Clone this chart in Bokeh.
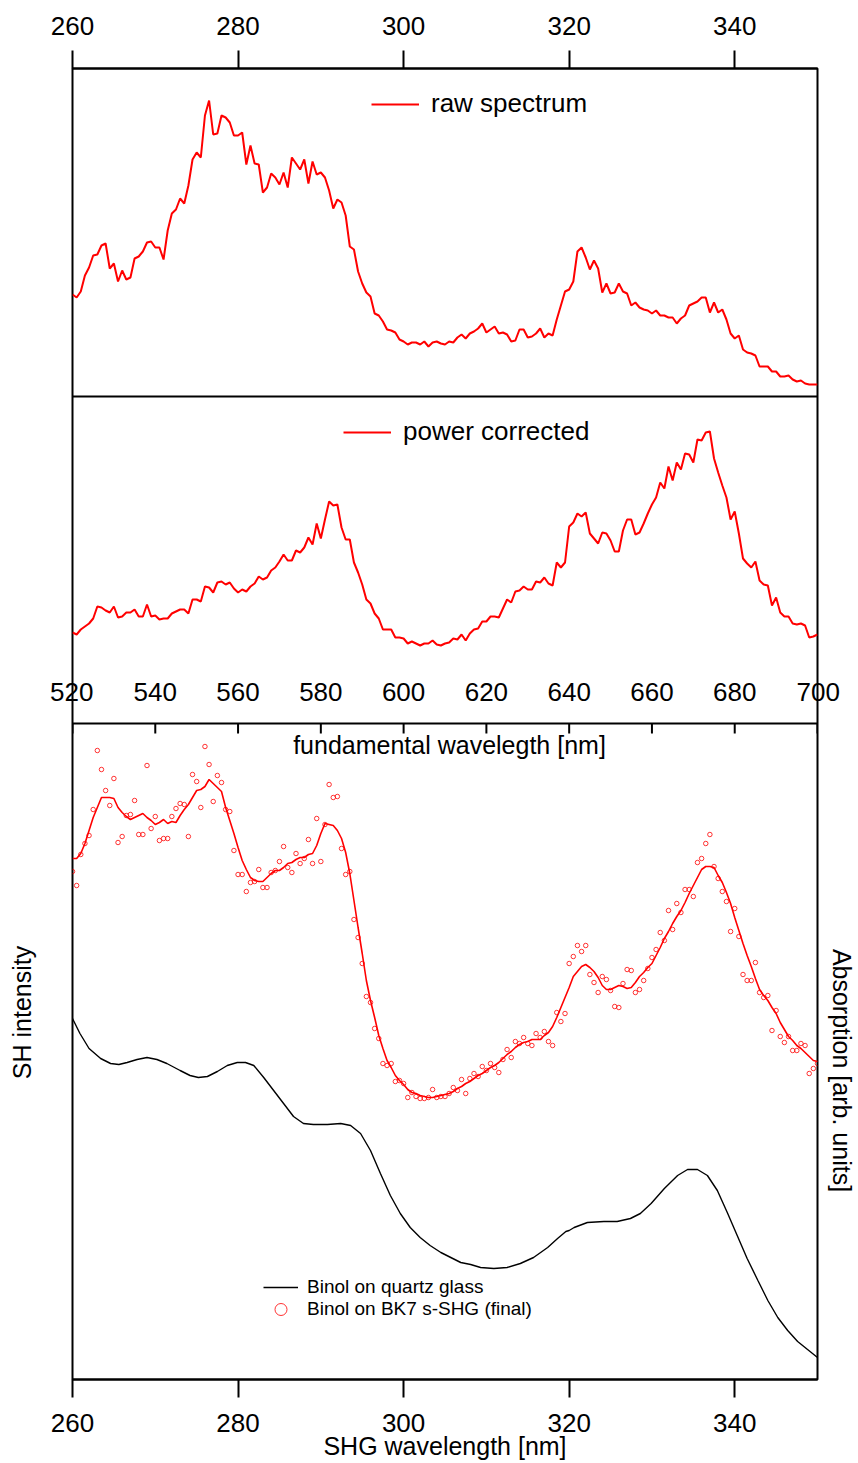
import numpy as np
from bokeh.plotting import figure
from bokeh.models import (Range1d, LinearAxis, FixedTicker, Span, Label, LabelSet,
                          ColumnDataSource, Legend, LegendItem)
from bokeh.embed import file_html
from bokeh.resources import INLINE
from bokeh.core.properties import value

# ---------------- data ----------------
# SHG wavelength grid of the measurement (0.5 nm steps, fundamental = 2 x SHG)
shg_wavelength = [260 + 0.5 * i for i in range(181)]

raw_spectrum = [
    102, 99, 105, 121, 129, 141, 142, 151, 153, 128,
    133, 115, 126, 117, 119, 138, 140, 145, 154, 155,
    149, 149, 137, 166, 183, 187, 198, 193, 211, 237,
    244, 239, 281, 296, 262, 263, 281, 279, 274, 261,
    261, 264, 232, 251, 233, 232, 204, 209, 223, 219,
    212, 224, 209, 239, 233, 227, 237, 213, 235, 222,
    224, 219, 206, 188, 197, 194, 181, 150, 147, 125,
    113, 104, 100, 83, 81, 75, 67, 66, 64, 57,
    55, 52, 54, 54, 52, 55, 50,
    54, 55, 53, 52, 55, 54, 59, 62, 58, 63,
    65, 68, 73, 64, 67, 70, 63, 64, 62, 55,
    56, 67, 67, 59, 60, 63, 68, 59, 63, 61,
    77, 91, 105, 107, 115, 145, 149, 139, 127, 136,
    128, 104, 113, 103, 104, 113, 105, 103, 91, 94,
    89, 87, 86, 83, 86, 81, 81, 79, 79, 73,
    78, 81, 91, 93, 95, 99, 99, 84, 94, 84,
    87, 77, 63, 58, 61, 47, 44, 43, 41, 30,
    30, 30, 25, 25, 20, 20, 21, 17, 15, 16,
    13, 12, 12, 12]

power_corrected = [
    91, 89, 94, 97, 100, 105, 117, 116, 113, 111,
    117, 106, 107, 111, 111, 114, 107, 107, 119, 107,
    108, 104, 105, 105, 110, 112, 114, 114, 110, 124,
    124, 122, 137, 136, 131, 141, 142, 139, 141, 135,
    131, 134, 132, 137, 140, 147, 144, 146, 153, 156,
    162, 169, 163, 163, 173, 171, 176, 186, 179, 200,
    185, 204, 222, 218, 219, 196, 184, 184, 161, 151,
    139, 124, 120, 110, 105, 94, 94, 94, 86, 86,
    85, 80, 82, 80, 78, 80, 80,
    83, 79, 78, 80, 81, 85, 84, 89, 83, 90,
    94, 95, 102, 102, 107, 107, 106, 115, 124, 121,
    132, 133, 137, 134, 134, 142, 141, 146, 140, 138,
    161, 156, 161, 197, 201, 210, 207, 211, 190, 185,
    180, 191, 190, 183, 172, 172, 193, 204, 204, 189,
    191, 200, 210, 219, 226, 241, 235, 257, 243, 261,
    254, 270, 269, 261, 284, 283, 291, 292, 265, 251,
    238, 226, 204, 212, 190, 165, 160, 156, 162, 143,
    139, 138, 118, 126, 111, 107, 107, 100, 99, 100,
    98, 86, 87, 89]

sh_points = [
    508, 494, 525, 536, 544, 570, 629, 610, 589, 574,
    601, 537, 543, 564, 565, 579, 545, 545, 614, 551,
    563, 539, 541, 541, 563, 571, 576, 575, 543, 605,
    598, 572, 633, 615, 578, 604, 597, 570, 568, 529,
    505, 505, 488, 497, 498, 510, 492, 492, 507, 509,
    518, 533, 512, 507, 526, 516, 521, 540, 516, 561,
    518, 555, 595, 582, 583, 531, 505, 508, 460, 442,
    416, 383, 377, 351, 341, 316, 314, 316, 298, 299,
    296, 282, 287, 283, 281, 281, 282,
    290, 282, 283, 283, 286, 292, 289, 300, 286, 301,
    306, 303, 313, 309, 316, 312, 307, 320, 330, 322,
    338, 336, 342, 336, 334, 346, 342, 348, 338, 334,
    367, 358, 366, 416, 423, 434, 428, 434, 405, 397,
    387, 403, 400, 389, 373, 372, 396, 410, 409, 387,
    390, 399, 411, 422, 430, 447, 439, 469, 450, 476,
    467, 490, 490, 483, 517, 521, 536, 545, 513, 501,
    488, 478, 448, 471, 443, 405, 399, 399, 417, 387,
    382, 384, 349, 369, 343, 337, 343, 329, 329, 336,
    334, 306, 311, 316]

sh_smoothed = [
    521, 521, 526, 536, 549, 562, 572, 582, 582, 582,
    581, 572, 567, 563, 560, 562, 564, 566, 562, 559,
    555, 557, 560, 556, 558, 557, 564, 570, 575, 582,
    589, 590, 593, 600, 596, 592, 588, 572, 559, 546,
    532, 519, 510, 502, 499, 498, 498, 502, 506, 509,
    509, 512, 516, 517, 520, 522, 522, 525, 526, 534,
    546, 556, 555, 554, 549, 541, 527, 506, 479, 452,
    426, 399, 379, 362, 344, 331, 319, 312, 304, 299,
    295, 290, 287, 286, 284, 283, 282,
    282, 283, 284, 285, 286, 288, 291, 293, 296, 298,
    301, 304, 306, 309, 312, 314, 317, 321, 325, 328,
    332, 335, 337, 338, 340, 340, 340, 344, 347, 353,
    362, 372, 382, 392, 403, 408, 413, 415, 412, 408,
    402, 394, 390, 390, 392, 394, 393, 391, 392, 397,
    403, 407, 412, 416, 424, 432, 441, 448, 456, 463,
    469, 477, 486, 494, 502, 510, 513, 513, 512, 504,
    497, 487, 476, 462, 449, 436, 424, 413, 401, 390,
    384, 379, 372, 366, 357, 350, 343, 339, 334, 331,
    327, 323, 319, 318]

abs_wavelength = [
    260.0, 260.9, 262.0, 263.4, 264.6, 265.6, 266.6, 267.8, 269.0, 270.2,
    271.4, 273.0, 274.2, 275.2, 276.3, 277.5, 278.7, 279.9, 280.9, 281.9,
    283.1, 284.3, 285.5, 286.7, 287.9, 289.1, 290.8, 292.4, 293.6, 294.8,
    296.0, 297.2, 298.4, 299.6, 300.8, 302.0, 303.2, 304.5, 305.7, 306.9,
    308.1, 309.3, 310.9, 312.5, 314.1, 315.7, 317.4, 318.6, 319.6, 320.0,
    320.6, 322.2, 324.2, 325.8, 327.4, 328.6, 329.9, 331.5, 333.1, 334.3,
    335.5, 336.7, 337.9, 339.1, 340.3, 341.5, 342.8, 344.0, 345.2, 346.4,
    347.6, 348.8, 350.0]
absorption = [
    361, 346, 331, 321, 316, 315, 317, 320, 322, 320,
    316, 309, 304, 302, 303, 308, 314, 317, 317, 314,
    302, 289, 276, 263, 256, 255, 255, 256, 254, 246,
    229, 206, 184, 166, 152, 142, 134, 127, 122, 117,
    115, 112, 111, 112, 116, 122, 132, 141, 148, 149,
    152, 157, 158, 158, 161, 166, 176, 191, 204, 210,
    210, 204, 189, 167, 144, 121, 99, 79, 62, 49,
    38, 30, 22]

shg_ticks = [260, 280, 300, 320, 340]
fund_ticks = [520, 540, 560, 580, 600, 620, 640, 660, 680, 700]
fund_tick_labels = [str(t) for t in fund_ticks]

# ---------------- layout ----------------
W, H = 858, 1463
LEFT, RIGHT, TOP, BOTTOM = 72, 817, 68, 1379
SEP1, SEP2 = 396, 723          # panel borders (pixel rows)
FONT = "Liberation Sans"


def band(lo, hi, top, bot):
    """Range for a panel whose data lo..hi occupies pixel rows bot..top."""
    s = (hi - lo) / (bot - top)
    return Range1d(lo - (BOTTOM - bot) * s, hi + (top - TOP) * s)


p = figure(width=W, height=H, x_range=Range1d(260, 350), y_range=Range1d(BOTTOM, TOP),
           x_axis_location=None, y_axis_location=None, toolbar_location=None,
           output_backend="svg", min_border_left=LEFT, min_border_right=W - RIGHT,
           min_border_top=TOP, min_border_bottom=H - BOTTOM,
           outline_line_color="black", outline_line_width=2,
           background_fill_color="white", border_fill_color="white")
p.grid.visible = False

p.extra_y_ranges = {
    "raw": band(0, 328, TOP, SEP1),
    "corr": band(0, 327, SEP1, SEP2),
    "sh": band(0, 656, SEP2, BOTTOM),
    "abs": band(0, 656, SEP2, BOTTOM),
}
p.extra_x_ranges = {"px": Range1d(LEFT, RIGHT)}

RED = "#ff0000"
raw_r = p.line(shg_wavelength, raw_spectrum, y_range_name="raw", line_color=RED, line_width=2)
corr_r = p.line(shg_wavelength, power_corrected, y_range_name="corr", line_color=RED, line_width=2)
abs_r = p.line(abs_wavelength, absorption, y_range_name="abs", line_color="black", line_width=1.4)
smooth_r = p.line(shg_wavelength, sh_smoothed, y_range_name="sh", line_color=RED, line_width=1.6)
dots_r = p.scatter(shg_wavelength, sh_points, y_range_name="sh", marker="circle", size=4.5,
                   fill_color=None, line_color=RED, line_width=0.8)

for loc in (SEP1, SEP2):
    p.add_layout(Span(location=loc, dimension="width", line_color="black", line_width=2))

axis_style = dict(ticker=FixedTicker(ticks=shg_ticks), major_tick_out=18, major_tick_in=0,
                  major_tick_line_width=2, major_tick_line_color="black",
                  axis_line_width=2, axis_line_color="black", minor_tick_line_color=None,
                  major_label_text_font=FONT, major_label_text_font_size="26px",
                  major_label_text_color="black")
top_axis = LinearAxis(major_label_standoff=16, **axis_style)
p.add_layout(top_axis, "above")
bottom_axis = LinearAxis(major_label_standoff=16, axis_label="SHG wavelength [nm]",
                         axis_label_text_font=FONT, axis_label_text_font_size="25px",
                         axis_label_text_font_style="normal", axis_label_text_color="black",
                         axis_label_standoff=-3, **axis_style)
p.add_layout(bottom_axis, "below")

# fundamental-wavelength scale between the middle and bottom panels
FUND_Y = SEP2 - 32   # vertical centre of its tick labels (pixel row)
fund_src = ColumnDataSource(dict(x=[f / 2 for f in fund_ticks], text=fund_tick_labels))
p.segment(x0="x", y0=SEP2, x1="x", y1=SEP2 + 10, source=fund_src,
          line_color="black", line_width=2)
inner = ColumnDataSource(dict(x=[f / 2 for f in fund_ticks[1:-1]], text=fund_tick_labels[1:-1]))
p.add_layout(LabelSet(x="x", y=SEP2 - 23, text="text", source=inner,
                      text_align="center", text_baseline="alphabetic",
                      text_font=value(FONT), text_font_size="26px", text_color="black"))
p.add_layout(Label(x=449, y=744, x_range_name="px", text="fundamental wavelegth [nm]",
                   text_align="center", text_baseline="alphabetic", text_font=FONT,
                   text_font_size="25px", text_color="black"))

# side guides: the end labels of the fundamental scale straddle the frame border,
# the intensity / absorption titles sit beside the lower panel
side_common = dict(major_tick_out=0, major_tick_in=0, major_tick_line_color=None,
                   minor_tick_line_color=None, axis_line_color=None,
                   major_label_text_font=FONT, major_label_text_color="black")
p.add_layout(LinearAxis(ticker=FixedTicker(ticks=[FUND_Y]),
                        major_label_overrides={FUND_Y: fund_tick_labels[0]},
                        major_label_orientation="horizontal", major_label_standoff=-21,
                        major_label_text_font_size="26px", **side_common), "left")
p.add_layout(LinearAxis(ticker=FixedTicker(ticks=[1012]),
                        major_label_overrides={1012: "SH intensity"},
                        major_label_orientation="vertical", major_label_standoff=12,
                        major_label_text_font_size="25px", **side_common), "left")
p.add_layout(LinearAxis(ticker=FixedTicker(ticks=[FUND_Y]),
                        major_label_overrides={FUND_Y: fund_tick_labels[-1]},
                        major_label_orientation="horizontal", major_label_standoff=-21,
                        major_label_text_font_size="26px", **side_common), "right")
p.add_layout(LinearAxis(ticker=FixedTicker(ticks=[1070]),
                        major_label_overrides={1070: "Absorption [arb. units]"},
                        major_label_orientation="vertical", major_label_standoff=-15,
                        major_label_text_font_size="25px", **side_common), "right")

leg_style = dict(border_line_color=None, background_fill_alpha=0, padding=0, margin=0,
                 label_text_font=FONT, label_text_color="black", spacing=0)
p.add_layout(Legend(items=[LegendItem(label="raw spectrum", renderers=[raw_r])],
                    location=(371 - LEFT, BOTTOM - 119), label_text_font_size="26px",
                    glyph_width=48, glyph_height=30, label_height=30, label_standoff=12,
                    **leg_style))
p.add_layout(Legend(items=[LegendItem(label="power corrected", renderers=[corr_r])],
                    location=(343 - LEFT, BOTTOM - 447), label_text_font_size="26px",
                    glyph_width=48, glyph_height=30, label_height=30, label_standoff=12,
                    **leg_style))
p.add_layout(Legend(items=[LegendItem(label="Binol on quartz glass", renderers=[abs_r])],
                    location=(263 - LEFT, BOTTOM - 1302), label_text_font_size="19px",
                    glyph_width=35, glyph_height=30, label_height=30, label_standoff=9,
                    **leg_style))
p.add_layout(Legend(items=[LegendItem(label="Binol on BK7 s-SHG (final)", renderers=[dots_r])],
                    location=(263 - LEFT, BOTTOM - 1324), label_text_font_size="19px",
                    glyph_width=35, glyph_height=30, label_height=30, label_standoff=9,
                    **leg_style))

open("out.html", "w").write(file_html(p, INLINE))
